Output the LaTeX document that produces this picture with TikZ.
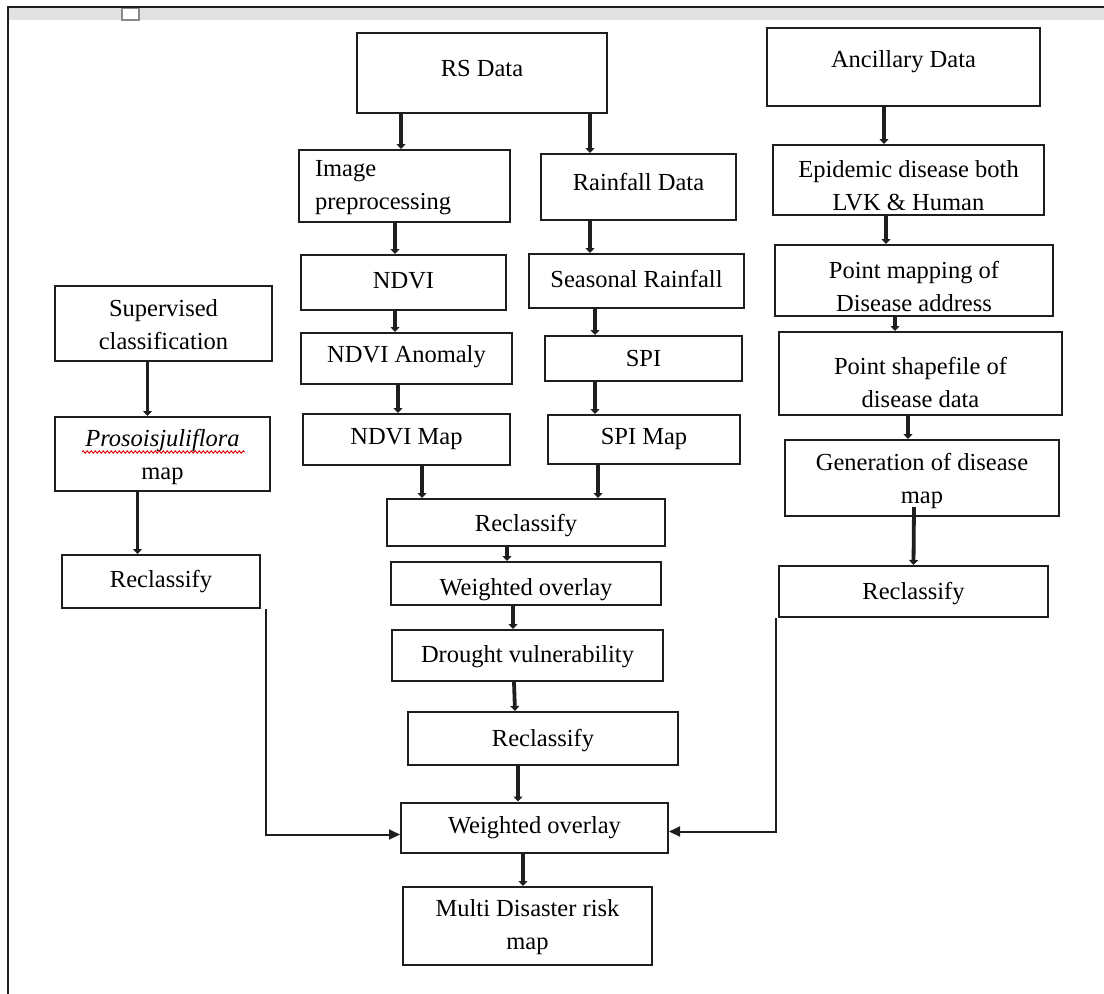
\documentclass[tikz,border=0pt]{standalone}
\usepackage{fontspec}
\setmainfont{Liberation Serif}
\usetikzlibrary{arrows.meta,decorations.pathmorphing}
\definecolor{linec}{HTML}{1E1E1E}
\definecolor{bandc}{HTML}{E2E2E2}
\definecolor{sqc}{HTML}{8A8A8A}
\begin{document}
\begin{tikzpicture}[x=1pt,y=-1pt,
  box/.style={draw=linec, line width=2pt, inner sep=0pt},
  lbl/.style={inner sep=0pt, align=center, font=\fontsize{24.5}{33}\selectfont},
  tx/.style 2 args={label={[lbl,yshift=#1pt]center:{#2}}},
  tarr/.style={draw=linec, line width=3.8pt, -{Triangle[length=5pt,width=9pt]}},
  elbow/.style={draw=linec, line width=2pt, -{Triangle[length=11pt,width=10pt]}}]

\useasboundingbox (0,0) rectangle (1104,994);
\fill[white] (0,0) rectangle (1104,994);
% page frame
\fill[bandc] (9,8) rectangle (1104,20);
\draw[sqc, fill=white, line width=1.5pt] (122,8) rectangle (139,20);
\draw[linec, line width=2pt] (1104,7) -- (8,7) -- (8,994);

% boxes
\node[box,minimum width=250pt,minimum height=80pt,tx={4}{RS Data}] (rs) at (482,73) {};
\node[box,minimum width=273pt,minimum height=78pt,tx={5}{Ancillary Data}] (anc) at (903.5,67) {};
\node[box,minimum width=211pt,minimum height=72pt,
      label={[lbl,align=left,text width=179pt,yshift=-1.5pt]center:{Image\\preprocessing}}] (img) at (404.5,186) {};
\node[box,minimum width=195pt,minimum height=66pt,tx={5}{Rainfall Data}] (rain) at (638.5,187) {};
\node[box,minimum width=271pt,minimum height=70pt,tx={-6}{Epidemic disease both\\LVK \& Human}] (epi) at (908.5,180) {};
\node[box,minimum width=205pt,minimum height=55pt,tx={2.3}{NDVI}] (ndvi) at (403.5,282.5) {};
\node[box,minimum width=215pt,minimum height=54pt,tx={2}{Seasonal Rainfall}] (seas) at (636.5,281) {};
\node[box,minimum width=278pt,minimum height=71pt,tx={-6}{Point mapping of\\Disease address}] (pmap) at (914,280.5) {};
\node[box,minimum width=217pt,minimum height=75pt,tx={-1}{Supervised\\classification}] (sup) at (163.5,323.5) {};
\node[box,minimum width=211pt,minimum height=51pt,tx={1.5}{NDVI Anomaly}] (anom) at (406.5,358.5) {};
\node[box,minimum width=197pt,minimum height=45pt,tx={0}{SPI}] (spi) at (643.5,358.5) {};
\node[box,minimum width=283pt,minimum height=83pt,tx={-9}{Point shapefile of\\disease data}] (pshp) at (920.5,373.5) {};
\node[box,minimum width=215pt,minimum height=74pt,tx={-2.75}{\textit{Prosoisjuliflora}\\map}] (pros) at (162.5,454) {};
\node[box,minimum width=207pt,minimum height=51pt,tx={0.5}{NDVI Map}] (nmap) at (406.5,439.5) {};
\node[box,minimum width=192pt,minimum height=49pt,tx={0.5}{SPI Map}] (smap) at (644,439.5) {};
\node[box,minimum width=274pt,minimum height=76pt,tx={-3}{Generation of disease\\map}] (gen) at (922,478) {};
\node[box,minimum width=278pt,minimum height=47pt,tx={-2.7}{Reclassify}] (rc) at (526,522.5) {};
\node[box,minimum width=198pt,minimum height=53pt,tx={0}{Reclassify}] (rl) at (161,581.5) {};
\node[box,minimum width=269pt,minimum height=51pt,tx={-2.2}{Reclassify}] (rr) at (913.5,591.5) {};
\node[box,minimum width=270pt,minimum height=43pt,tx={-5.7}{Weighted overlay}] (wo1) at (526,583.5) {};
\node[box,minimum width=271pt,minimum height=51pt,tx={-0.7}{Drought vulnerability}] (dv) at (527.5,655.5) {};
\node[box,minimum width=270pt,minimum height=53pt,tx={-2}{Reclassify}] (rc2) at (543,738.5) {};
\node[box,minimum width=267pt,minimum height=50pt,tx={0}{Weighted overlay}] (wo2) at (534.5,827.5) {};
\node[box,minimum width=249pt,minimum height=78pt,tx={-1}{Multi Disaster risk\\map}] (md) at (527.5,926) {};

% red wavy spell-check underline
\draw[red!85!black, line width=0.9pt, decorate,
      decoration={snake,amplitude=1.2pt,segment length=4pt}]
  ([xshift=-80.5pt,yshift=2pt]pros.center) -- ([xshift=82.5pt,yshift=2pt]pros.center);

% thick connectors
\draw[tarr] ([xshift=-81pt]rs.south) -- ([xshift=-3.5pt]img.north);
\draw[tarr] ([xshift=108pt]rs.south) -- ([xshift=-48.5pt]rain.north);
\draw[tarr] ([xshift=-19.5pt]anc.south) -- ([xshift=-24.5pt]epi.north);
\draw[tarr] ([xshift=-9.5pt]img.south) -- ([xshift=-8.5pt]ndvi.north);
\draw[tarr] ([xshift=-48.5pt]rain.south) -- ([xshift=-46.5pt]seas.north);
\draw[tarr] ([xshift=-22.5pt]epi.south) -- ([xshift=-28pt]pmap.north);
\draw[tarr] ([xshift=-8.5pt]ndvi.south) -- ([xshift=-11.5pt]anom.north);
\draw[tarr] ([xshift=-41.5pt]seas.south) -- ([xshift=-48.5pt]spi.north);
\draw[tarr] ([xshift=-19pt]pmap.south) -- ([xshift=-25.5pt]pshp.north);
\draw[tarr] ([xshift=-16pt]sup.south) -- ([xshift=-15pt]pros.north);
\draw[tarr] ([xshift=-8.5pt]anom.south) -- ([xshift=-8.5pt]nmap.north);
\draw[tarr] ([xshift=-48.5pt]spi.south) -- ([xshift=-49pt]smap.north);
\draw[tarr] ([xshift=-12.5pt]pshp.south) -- ([xshift=-14pt]gen.north);
\draw[tarr] ([xshift=-25pt]pros.south) -- ([xshift=-23.5pt]rl.north);
\draw[tarr] ([xshift=15.5pt]nmap.south) -- ([xshift=-104pt]rc.north);
\draw[tarr] ([xshift=-46pt]smap.south) -- ([xshift=72pt]rc.north);
\draw[tarr] ([xshift=-8pt,yshift=10pt]gen.south) -- ([xshift=0pt]rr.north);
\draw[tarr] ([xshift=-19pt]rc.south) -- ([xshift=-19pt]wo1.north);
\draw[tarr] ([xshift=-13pt]wo1.south) -- ([xshift=-14.5pt]dv.north);
\draw[tarr] ([xshift=-13.5pt]dv.south) -- ([xshift=-28pt]rc2.north);
\draw[tarr] ([xshift=-25pt]rc2.south) -- ([xshift=-16.5pt]wo2.north);
\draw[tarr] ([xshift=-11.5pt]wo2.south) -- ([xshift=-4.5pt]md.north);

% elbow connectors
\draw[elbow] ([xshift=5pt]rl.south east) |- ([yshift=-7pt]wo2.west);
\draw[elbow] ([xshift=-2pt]rr.south west) |- ([yshift=-4pt]wo2.east);
\end{tikzpicture}
\end{document}
